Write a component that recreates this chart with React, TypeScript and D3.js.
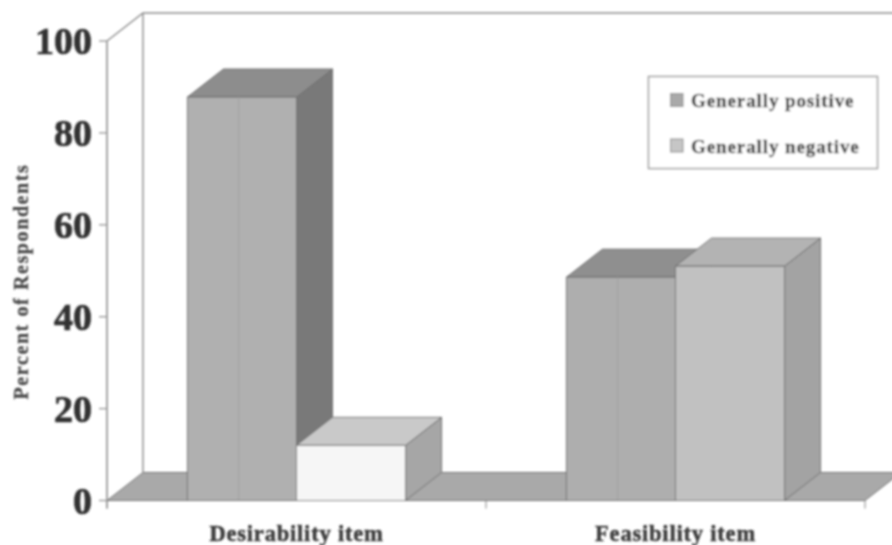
import React from "react";
import * as d3 from "d3";

const categories = ["Desirability item", "Feasibility item"];
const seriesNames = ["Generally positive", "Generally negative"];
const positiveValues = [87.8, 48.6];
const negativeValues = [12, 51];
const yTicks = [0, 20, 40, 60, 80, 100];

const W = 892, H = 545;
const DX = 36, DY = -28;
const x0 = 107, x1 = 865, yB = 500.5, yT = 41;
const serif = "'Liberation Serif', serif";

const y = d3.scaleLinear().domain([0, 100]).range([yB, yT]);
const xCat = d3.scaleBand().domain(categories).range([x0, x1]).paddingInner(0).paddingOuter(0);
const xSer = d3.scaleBand().domain(seriesNames).range([0, xCat.bandwidth()]).paddingInner(0).paddingOuter(0.738);

const poly = (pts: [number, number][]) => pts.map(p => p.join(",")).join(" ");
const line = "#6e6e6e";

type Style = { front: string; side: string; top: string; seam?: boolean };
function Bar({ cat, ser, v, s }: { cat: string; ser: string; v: number; s: Style }) {
  const l = (xCat(cat) as number) + (xSer(ser) as number);
  const r = l + xSer.bandwidth();
  const t = y(v);
  const common = { stroke: line, strokeWidth: 1, strokeLinejoin: "round" as const };
  const seamX = l + (r - l) * 0.47;
  return (
    <g>
      <polygon points={poly([[r, t], [r + DX, t + DY], [r + DX, yB + DY], [r, yB]])} fill={s.side} {...common} />
      <polygon points={poly([[l, t], [l + DX, t + DY], [r + DX, t + DY], [r, t]])} fill={s.top} {...common} />
      <rect x={l} y={t} width={r - l} height={yB - t} fill={s.front} {...common} />
      {s.seam && <line x1={seamX} x2={seamX} y1={t} y2={yB} stroke="#a0a0a0" strokeWidth={1} />}
    </g>
  );
}

const posStyle: Style[] = [
  { front: "#b0b0b0", side: "#797979", top: "#8d8d8d", seam: true },
  { front: "#aeaeae", side: "#808080", top: "#8f8f8f", seam: true },
];
const negStyle: Style[] = [
  { front: "#f6f6f6", side: "#a6a6a6", top: "#c9c9c9" },
  { front: "#c1c1c1", side: "#a3a3a3", top: "#b3b3b3" },
];

export default function App() {
  const xTicks = [x0, ...categories.map(c => (xCat(c) as number) + xCat.bandwidth())];
  return (
    <svg width={W} height={H} viewBox={`0 0 ${W} ${H}`} style={{ position: "absolute", left: 0, top: 0, background: "#fff" }}>
      <defs>
        <filter id="soft" x="0" y="0" width={W} height={H} filterUnits="userSpaceOnUse">
          <feGaussianBlur stdDeviation="0.85" />
        </filter>
      </defs>
      <g filter="url(#soft)">
        {/* floor */}
        <polygon points={poly([[x0, yB], [x0 + DX, yB + DY], [x1 + DX, yB + DY], [x1, yB]])} fill="#a9a9a9" stroke={line} strokeWidth={1} />
        {/* walls */}
        <path d={`M${x0},${yT}L${x0 + DX},${yT + DY}H${W + 2}M${x0 + DX},${yT + DY}V${yB + DY}`} fill="none" stroke="#8c8c8c" strokeWidth={1.4} />
        <path d={`M${x0},${yT}V${yB + 8}`} fill="none" stroke="#a5a5a5" strokeWidth={2} />
        {yTicks.map(t => (
          <line key={t} x1={x0 - 8} x2={x0} y1={y(t)} y2={y(t)} stroke="#9a9a9a" strokeWidth={1.4} />
        ))}
        {xTicks.map(t => (
          <line key={t} x1={t} x2={t} y1={yB} y2={yB + 8} stroke="#9a9a9a" strokeWidth={1.2} />
        ))}
        {/* bars */}
        {categories.map((c, i) => (
          <g key={c}>
            <Bar cat={c} ser={seriesNames[0]} v={positiveValues[i]} s={posStyle[i]} />
            <Bar cat={c} ser={seriesNames[1]} v={negativeValues[i]} s={negStyle[i]} />
          </g>
        ))}
        <line x1={x0} x2={x1} y1={yB} y2={yB} stroke={line} strokeWidth={1.2} />
        {/* y tick labels */}
        {yTicks.map(t => (
          <text key={t} x={92} y={y(t) + 13} textAnchor="end" fontFamily={serif} fontWeight="bold" fontSize={38} stroke="#303030" strokeWidth={0.7} fill="#303030">{t}</text>
        ))}
        {/* y title */}
        <text transform="translate(28,281.5) rotate(-90)" textAnchor="middle" fontFamily={serif} fontWeight="bold" fontSize={20} letterSpacing={1.6} stroke="#4a4a4a" strokeWidth={0.3} fill="#4a4a4a">Percent of Respondents</text>
        {/* x labels */}
        {categories.map(c => (
          <text key={c} x={(xCat(c) as number) + xCat.bandwidth() / 2} y={541} textAnchor="middle" fontFamily={serif} fontWeight="bold" fontSize={22.5} letterSpacing={0.8} stroke="#3c3c3c" strokeWidth={0.5} fill="#3c3c3c">{c}</text>
        ))}
        {/* legend */}
        <rect x={648.5} y={76.5} width={229} height={92} fill="#fff" stroke="#9c9c9c" strokeWidth={1.5} />
        {seriesNames.map((n, i) => (
          <g key={n}>
            <rect x={670.5} y={93.5 + i * 45.5} width={12.5} height={13} fill={i === 0 ? "#a9a9a9" : "#c6c6c6"} stroke="#8c8c8c" strokeWidth={1} />
            <text x={691} y={107 + i * 45.5} fontFamily={serif} fontWeight="bold" fontSize={19} letterSpacing={0.9} stroke="#444" strokeWidth={0.3} fill="#444">{n}</text>
          </g>
        ))}
      </g>
    </svg>
  );
}
